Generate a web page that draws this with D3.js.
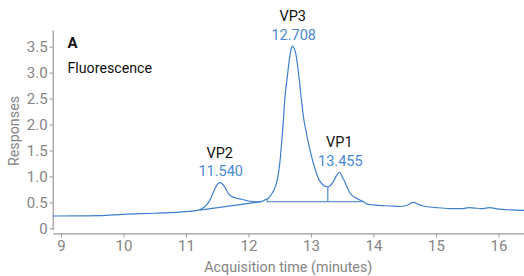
<!DOCTYPE html>
<html>
<head>
	<title> chromatogram </title>
	<script src="https://d3js.org/d3.v7.min.js"></script>
	<style>
		body { margin: 0; background: white; }
		text { font-family: Roboto, "Noto Sans", sans-serif; }
	</style>
</head>
<body>
	<svg id="vis"></svg>
	<script type="text/javascript">

		// trace: time (minutes) and response
		const times = [8.87, 9.2, 9.62, 10.0, 10.5, 11.0, 11.2, 11.27, 11.33, 11.39, 11.44, 11.5, 11.54, 11.58, 11.62, 11.66, 11.7, 11.76, 11.81, 11.89, 12.0, 12.08, 12.16, 12.22, 12.26, 12.3, 12.34, 12.38, 12.42, 12.45, 12.48, 12.51, 12.53, 12.56, 12.58, 12.62, 12.66, 12.69, 12.71, 12.73, 12.76, 12.79, 12.82, 12.85, 12.88, 12.92, 12.96, 13.0, 13.04, 13.08, 13.12, 13.16, 13.2, 13.24, 13.28, 13.32, 13.36, 13.41, 13.46, 13.5, 13.54, 13.58, 13.62, 13.67, 13.73, 13.79, 13.84, 13.89, 14.0, 14.27, 14.42, 14.55, 14.64, 14.72, 14.8, 15.0, 15.22, 15.43, 15.52, 15.62, 15.73, 15.86, 16.0, 16.2, 16.41];
		const responses = [0.237, 0.24, 0.243, 0.27, 0.29, 0.32, 0.35, 0.39, 0.45, 0.56, 0.70, 0.84, 0.88, 0.86, 0.80, 0.71, 0.64, 0.60, 0.58, 0.56, 0.526, 0.515, 0.51, 0.52, 0.545, 0.565, 0.61, 0.68, 0.77, 0.88, 1.06, 1.35, 1.64, 2.1, 2.47, 2.9, 3.3, 3.48, 3.51, 3.47, 3.35, 3.1, 2.79, 2.45, 2.15, 1.88, 1.64, 1.43, 1.25, 1.09, 0.96, 0.88, 0.83, 0.805, 0.80, 0.84, 0.90, 1.02, 1.08, 1.0, 0.90, 0.79, 0.69, 0.62, 0.58, 0.54, 0.51, 0.47, 0.45, 0.43, 0.42, 0.45, 0.50, 0.46, 0.43, 0.40, 0.38, 0.38, 0.40, 0.39, 0.38, 0.40, 0.37, 0.355, 0.345];

		// integration baselines [t0, v0, t1, v1]
		const baselines = [
			[11.22, 0.35, 12.18, 0.51],
			[12.30, 0.513, 13.81, 0.513]
		];
		// vertical marks [t, vTop, vBottom]
		const drops = [
			[12.30, 0.565, 0.513],
			[13.27, 0.80, 0.513]
		];

		const peakNames = ["VP2", "VP3", "VP1"];
		const peakTimes = [11.54, 12.708, 13.455];
		const peakValues = [0.88, 3.51, 1.08];

		const xTicks = [9, 10, 11, 12, 13, 14, 15, 16];
		const yTicks = [0, 0.5, 1.0, 1.5, 2.0, 2.5, 3.0, 3.5];

		const w = 524, h = 276;
		const svg = d3.select("#vis").attr("width", w).attr("height", h);

		const x = d3.scaleLinear().domain([8.867, 16.41]).range([52.7, 524]);
		const y = d3.scaleLinear().domain([0, 3.5]).range([228.3, 46.7]);
		const yAxisScale = y.copy().domain([-0.03, 3.82]).range([y(-0.03), y(3.82)]);

		const axisGrey = "#9a9a9a";
		const labelGrey = "#858585";
		const blue = "#3f7fcf";

		// x axis
		const xg = svg.append("g").attr("transform", "translate(0,233.3)");
		xg.call(d3.axisBottom(x).tickValues(d3.range(9.5, 16.5, 1)).tickSize(3).tickSizeOuter(0).tickFormat(""));
		xg.call(d3.axisBottom(x).tickValues(xTicks).tickSize(4).tickSizeOuter(0).tickPadding(3).tickFormat(d3.format("d")));

		// y axis
		const yg = svg.append("g").attr("transform", "translate(52.7,0)");
		yg.call(d3.axisLeft(yAxisScale).tickValues(d3.range(0.25, 3.8, 0.5)).tickSize(2).tickSizeOuter(0).tickFormat(""));
		yg.call(d3.axisLeft(yAxisScale).tickValues(yTicks).tickSize(3).tickSizeOuter(0).tickPadding(2).tickFormat(d => d === 0 ? "0" : d3.format(".1f")(d)));

		svg.selectAll(".domain").attr("stroke", axisGrey).attr("stroke-width", 1.2);
		svg.selectAll(".tick line").attr("stroke", axisGrey);
		svg.selectAll(".tick text").attr("fill", labelGrey).style("font-size", "15px");

		// axis titles
		svg.append("text").attr("x", 288.3).attr("y", 271.5).attr("text-anchor", "middle")
			.attr("fill", labelGrey).style("font-size", "14.3px").text("Acquisition time (minutes)");
		svg.append("text").attr("transform", "translate(19,131) rotate(-90)").attr("text-anchor", "middle")
			.attr("fill", labelGrey).style("font-size", "14.3px").text("Responses");

		// panel labels
		svg.append("text").attr("x", 67.5).attr("y", 48).style("font-size", "15px").style("font-weight", "bold").attr("fill", "#111").text("A");
		svg.append("text").attr("x", 67.5).attr("y", 73).style("font-size", "14.2px").attr("fill", "#111").text("Fluorescence");

		// baselines and drop lines
		svg.selectAll(".base").data(baselines).join("line").attr("class", "base")
			.attr("x1", d => x(d[0])).attr("y1", d => y(d[1]))
			.attr("x2", d => x(d[2])).attr("y2", d => y(d[3]))
			.attr("stroke", blue).attr("stroke-width", 1.1);
		svg.selectAll(".drop").data(drops).join("line").attr("class", "drop")
			.attr("x1", d => x(d[0])).attr("y1", d => y(d[1]))
			.attr("x2", d => x(d[0])).attr("y2", d => y(d[2]))
			.attr("stroke", blue).attr("stroke-width", 1.1);

		// trace
		const pts = times.map((t, i) => [t, responses[i]]);
		const line = d3.line().x(d => x(d[0])).y(d => y(d[1])).curve(d3.curveMonotoneX);
		svg.append("path").datum(pts).attr("d", line).attr("fill", "none")
			.attr("stroke", blue).attr("stroke-width", 1.2);

		// peak labels
		peakNames.forEach((n, i) => {
			const px = x(peakTimes[i]), py = y(peakValues[i]);
			svg.append("text").attr("x", px + 1).attr("y", py - 6.5).attr("text-anchor", "middle")
				.style("font-size", "14.5px").attr("fill", "#4a89d2").text(d3.format(".3f")(peakTimes[i]));
			svg.append("text").attr("x", px).attr("y", py - 25).attr("text-anchor", "middle")
				.style("font-size", "14.5px").attr("fill", "#111").text(n);
		});
	</script>
</body>
</html>
